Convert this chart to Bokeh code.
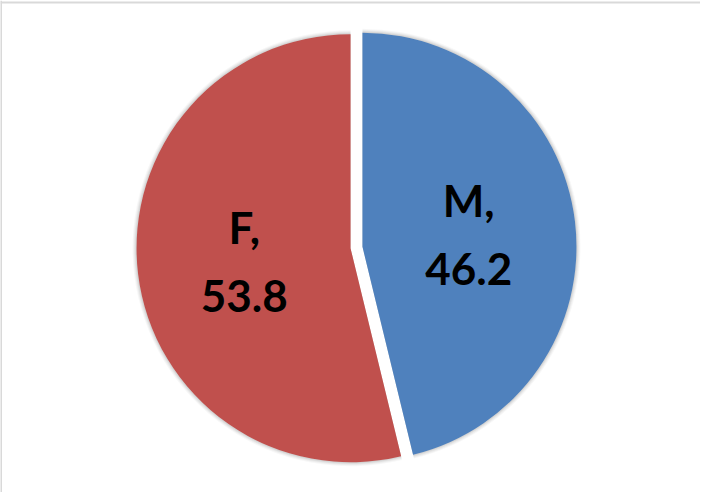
import math
from bokeh.plotting import figure
from bokeh.models import Range1d, Span, ColumnDataSource
from bokeh.core.properties import value
from bokeh.embed import file_html
from bokeh.resources import INLINE

# Data
categories = ["M", "F"]
values = [46.2, 53.8]
colors = ["#4F81BD", "#C0504D"]

W, H = 700, 492
p = figure(width=W, height=H, output_backend="svg", toolbar_location=None,
           x_range=Range1d(0, W), y_range=Range1d(0, H), min_border=0)
p.axis.visible = False
p.grid.visible = False
p.outline_line_color = None
p.background_fill_color = "white"
p.border_fill_color = "white"

# frame lines (left and top only, as in reference crop)
p.add_layout(Span(location=0.5, dimension="height", line_color="#D9D9D9", line_width=2))
p.add_layout(Span(location=H - 2.0, dimension="width", line_color="#D9D9D9", line_width=2))

cx, cy, r, d = 356, 245, 214, 6
total = sum(values)
start = math.pi / 2
rows = dict(x=[], y=[], s=[], e=[], color=[], lx=[], ly=[], label=[])
for cat, v, c in zip(categories, values, colors):
    sweep = 2 * math.pi * v / total
    end = start - sweep
    mid = (start + end) / 2
    x0 = cx + d * math.cos(mid)
    y0 = cy + d * math.sin(mid)
    rows["x"].append(x0)
    rows["y"].append(y0)
    rows["s"].append(start)
    rows["e"].append(end)
    rows["color"].append(c)
    rows["lx"].append(x0 + 0.5 * r * math.cos(mid))
    rows["ly"].append(y0 + 0.5 * r * math.sin(mid))
    rows["label"].append(f"{cat},\n{v}")
    start = end

src = ColumnDataSource(rows)

# soft shadow
for extra, a in [(4, 0.03), (3, 0.04), (2, 0.05), (1, 0.06)]:
    p.wedge(x="x", y="y", radius=r + extra, start_angle="e", end_angle="s",
            direction="anticlock", fill_color="black", fill_alpha=a,
            line_color=None, source=src)

p.wedge(x="x", y="y", radius=r, start_angle="e", end_angle="s",
        direction="anticlock", fill_color="color", line_color=None, source=src)

p.text(x="lx", y="ly", text="label", source=src,
       text_font=value("Lato"), text_font_style="bold", text_font_size="44px",
       text_color="black", text_align="center", text_baseline="middle",
       text_line_height=1.32)

open("out.html", "w").write(file_html(p, INLINE))
